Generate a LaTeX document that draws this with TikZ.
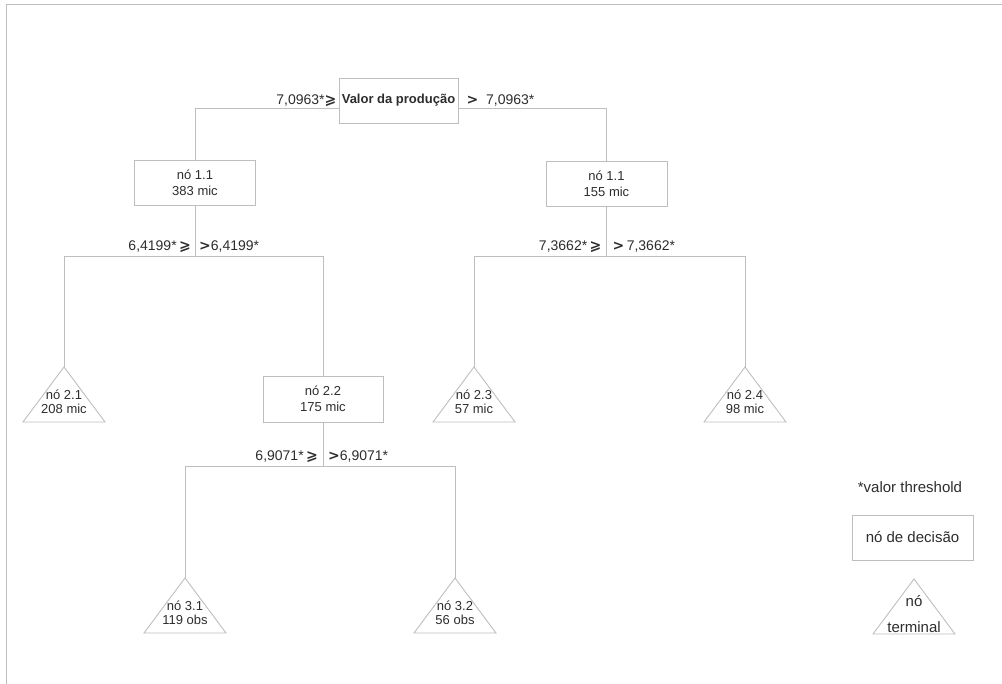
\documentclass[tikz,border=0pt]{standalone}
\usepackage{fontspec}
\setmainfont{Liberation Sans}
\newfontfamily\simbolo{DejaVu Sans}
\newcommand{\maiorig}{{\simbolo\bfseries ⩾}}
\newcommand{\maior}{{\simbolo\bfseries >}}
\definecolor{linha}{RGB}{190,190,190}
\definecolor{texto}{RGB}{45,45,45}
\tikzset{
  ramo/.style={draw=linha, line width=0.9pt},
  rotulo/.style={text=texto, inner sep=0pt, font=\fontsize{13}{14}\selectfont, align=center},
  corte/.style={text=texto, inner sep=0pt, font=\fontsize{14}{16}\selectfont},
  caixa/.style={ramo, fill=white, minimum width=121pt, minimum height=45pt},
}
% folha: [opcoes do texto]{nome}{x}{y do vertice}{texto}
\newcommand{\folha}[5][]{%
  \draw[ramo] (#3,#4) coordinate (#2) -- ++(41,55) -- ++(-82,0) -- cycle;
  \node[rotulo,#1] (#2-txt) at (#3,#4+35) {#5};
}
\begin{document}
\begin{tikzpicture}[x=1pt,y=-1pt]
\useasboundingbox (0,0) rectangle (1002,684);
\draw[ramo] (1002,4) -- (6,4) -- (6,684);

% nos de decisao
\node[caixa, rotulo, font=\bfseries\fontsize{13}{14}\selectfont, minimum width=119pt] (raiz) at (398.5,100.5) {Valor da produção};
\node[caixa, rotulo] (n11e) at (195,183) {nó 1.1\\[2pt]383 mic};
\node[caixa, rotulo] (n11d) at (606.5,183.5) {nó 1.1\\[2pt]155 mic};
\node[caixa, rotulo, minimum width=120pt, minimum height=46pt] (n22) at (323,399) {nó 2.2\\[2pt]175 mic};

% nos terminais
\folha{n21}{64}{367}{nó 2.1\\208 mic}
\folha{n23}{474}{367}{nó 2.3\\57 mic}
\folha{n24}{745}{367}{nó 2.4\\98 mic}
\folha{n31}{185}{578}{nó 3.1\\119 obs}
\folha{n32}{455}{578}{nó 3.2\\56 obs}

% ligacoes
\draw[ramo] ([yshift=-7.5pt]raiz.west) -| (n11e.north);
\draw[ramo] ([yshift=-7.5pt]raiz.east) -| (n11d.north);
\node[corte, anchor=east] (c0e) at ([xshift=-2pt]raiz.west) {7,0963*\maiorig};
\node[corte, anchor=west] (c0d) at ([xshift=8pt]raiz.east) {\maior\ \ 7,0963*};

\coordinate (s1) at (n11e.south |- 0,256);
\draw[ramo] (n11e.south) -- (s1) -| (n21);
\draw[ramo] (s1) -| (n22.north);
\node[corte, anchor=base east] (c1e) at ([xshift=-4pt,yshift=5pt]s1) {6,4199*\,\maiorig};
\node[corte, anchor=base west] (c1d) at ([xshift=4pt,yshift=5pt]s1) {\maior6,4199*};

\coordinate (s2) at (n11d.south |- 0,256);
\draw[ramo] (n11d.south) -- (s2) -| (n23);
\draw[ramo] (s2) -| (n24);
\node[corte, anchor=base east] (c2e) at ([xshift=-5pt,yshift=5pt]s2) {7,3662*\,\maiorig};
\node[corte, anchor=base west] (c2d) at ([xshift=6pt,yshift=5pt]s2) {\maior\,7,3662*};

\coordinate (s3) at (n22.south |- 0,466);
\draw[ramo] (n22.south) -- (s3) -| (n31);
\draw[ramo] (s3) -| (n32);
\node[corte, anchor=base east] (c3e) at ([xshift=-5pt,yshift=5pt]s3) {6,9071*\,\maiorig};
\node[corte, anchor=base west] (c3d) at ([xshift=5pt,yshift=5pt]s3) {\maior6,9071*};

% legenda
\node[rotulo, font=\fontsize{15}{18}\selectfont] (nota) at (910,487) {*valor threshold};
\node[caixa, rotulo, font=\fontsize{15}{18}\selectfont] (decisao) at (912.5,537.5) {nó de decisão};
\folha[font=\fontsize{15}{18}\selectfont]{terminal}{914}{579}{nó\\[8pt]terminal}
\end{tikzpicture}
\end{document}
